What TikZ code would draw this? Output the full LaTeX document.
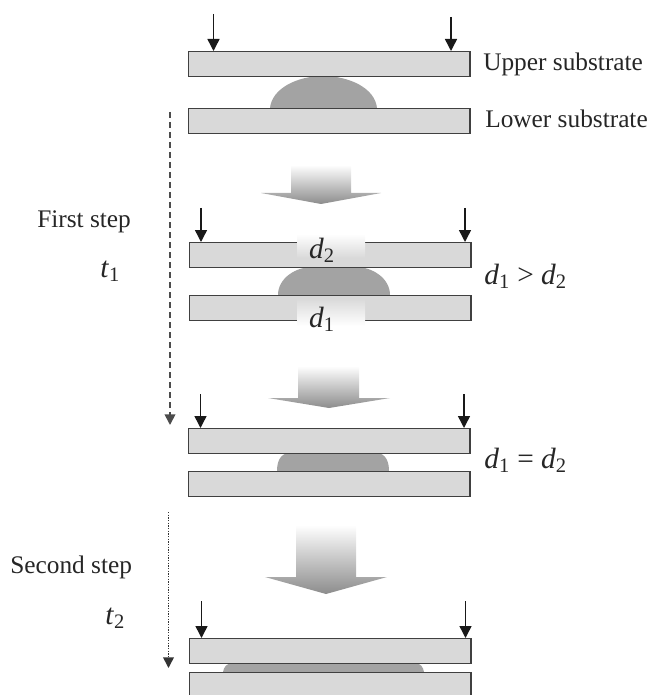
\documentclass[tikz,border=0pt]{standalone}
\usepackage{fontspec}
\setmainfont{Liberation Serif}
\usetikzlibrary{positioning,arrows.meta}

\newcommand{\dvar}[1]{\textit{d}\textsubscript{#1}}
\newcommand{\tvar}[1]{\textit{t}\textsubscript{#1}}

\begin{document}
\begin{tikzpicture}[
  x=0.75pt, y=-0.75pt,
  plate/.style={draw=black!75, fill=black!15, line width=1.05pt, anchor=north west,
                minimum width=211pt, minimum height=18.75pt, inner sep=0pt},
  drop/.style={fill=black!36},
  press/.style={-{Triangle[length=9pt,width=9pt]}, line width=1.1pt, black!90},
  flow/.style={fill=none, shade, top color=white, bottom color=black!45},
  gapshade/.style={shade, draw=none},
  path1/.style={-{Triangle[length=8pt,width=8pt]}, line width=1.3pt, black!70,
                dash pattern=on 4.5pt off 3pt},
  path2/.style={-{Triangle[length=8pt,width=8pt]}, line width=1.2pt, black!80,
                dash pattern=on 1pt off 1pt},
  lbl/.style={font=\fontsize{19}{22}\selectfont, inner sep=0pt, text=black!85},
  mlbl/.style={font=\fontsize{22}{26}\selectfont, inner sep=0pt, text=black!85}
]
\clip (0,0) rectangle (649,695);

% droplets
\fill[drop] (270,108) .. controls (272,88) and (298,76) .. (323,76)
   .. controls (349,76) and (375,88) .. (377,108) -- cycle;
\fill[drop] (278,295) .. controls (278,278) and (296,267) .. (312,267) -- (356,267)
   .. controls (372,267) and (390,278) .. (390,295) -- cycle;
\fill[drop] (277,471) .. controls (277,462) and (280,453) .. (290,453) -- (376,453)
   .. controls (386,453) and (389,462) .. (389,471) -- cycle;
\fill[drop] (223,672) .. controls (224,667) and (226,663) .. (234,663) -- (414,663)
   .. controls (421,663) and (423,667) .. (424,672) -- cycle;

% substrates
\node[plate] (upa) at (188,51) {};
\node[plate, below=23pt of upa] (lowa) {};
\node[plate] (upb) at (189,242) {};
\node[plate, below=20pt of upb] (lowb) {};
\node[plate] (upc) at (188,428) {};
\node[plate, below=12.5pt of upc] (lowc) {};
\node[plate] (upd) at (189,638) {};
\node[plate, below=5.75pt of upd, minimum height=30pt] (lowd) {};

% faded parts round the gaps
\shade[gapshade, top color=white, bottom color=black!15] (297,234) rectangle (365,258);
\shade[gapshade, top color=black!15, bottom color=white] (297,298) rectangle (365,326);

% block arrows
\path[flow] (291,165) -- (351,165) -- (351,193) -- (381,193) -- (321,204)
   -- (261,193) -- (291,193) -- cycle;
\path[flow] (298,366) -- (359,366) -- (359,398) -- (390,398) -- (329,408)
   -- (268,398) -- (298,398) -- cycle;
\path[flow] (296,525) -- (356,525) -- (356,577) -- (387,577) -- (326,594)
   -- (265,577) -- (296,577) -- cycle;

% pressing arrows
\coordinate (pa1) at (213.5,14);
\coordinate (pa2) at (451,17);
\coordinate (pb1) at (201,208);
\coordinate (pb2) at (465,208);
\coordinate (pc1) at (200.5,394);
\coordinate (pc2) at (464,394);
\coordinate (pd1) at (201.5,601);
\coordinate (pd2) at (465.5,601);
\draw[press] (pa1) -- (pa1 |- upa.north);
\draw[press] (pa2) -- (pa2 |- upa.north);
\draw[press] (pb1) -- (pb1 |- upb.north);
\draw[press] (pb2) -- (pb2 |- upb.north);
\draw[press] (pc1) -- (pc1 |- upc.north);
\draw[press] (pc2) -- (pc2 |- upc.north);
\draw[press] (pd1) -- (pd1 |- upd.north);
\draw[press] (pd2) -- (pd2 |- upd.north);

% time arrows
\coordinate (sa) at (170,112);
\coordinate (ea) at (170,425);
\coordinate (sb) at (168.5,512);
\coordinate (eb) at (168.5,668);
\draw[path1] (sa) -- (ea);
\draw[path2] (sb) -- (eb);

% labels
\node[lbl, anchor=base west] (uplbl) at (483,71) {Upper substrate};
\node[lbl, anchor=base west] (lowlbl) at (485,128) {Lower substrate};
\node[lbl, anchor=base west] (first) at (37,228) {First step};
\node[mlbl, anchor=base west] (tone) at (100,277) {\tvar{1}};
\node[lbl, anchor=base west] (second) at (10,573) {Second step};
\node[mlbl, anchor=base west] (ttwo) at (105,624) {\tvar{2}};
\node[mlbl, anchor=base] (dtwo) at (322,258) {\dvar{2}};
\node[mlbl, anchor=base] (done) at (322,327) {\dvar{1}};
\node[mlbl, anchor=base west] (dgt) at (484,284) {\dvar{1} > \dvar{2}};
\node[mlbl, anchor=base west] (deq) at (484,468) {\dvar{1} = \dvar{2}};
\end{tikzpicture}
\end{document}
